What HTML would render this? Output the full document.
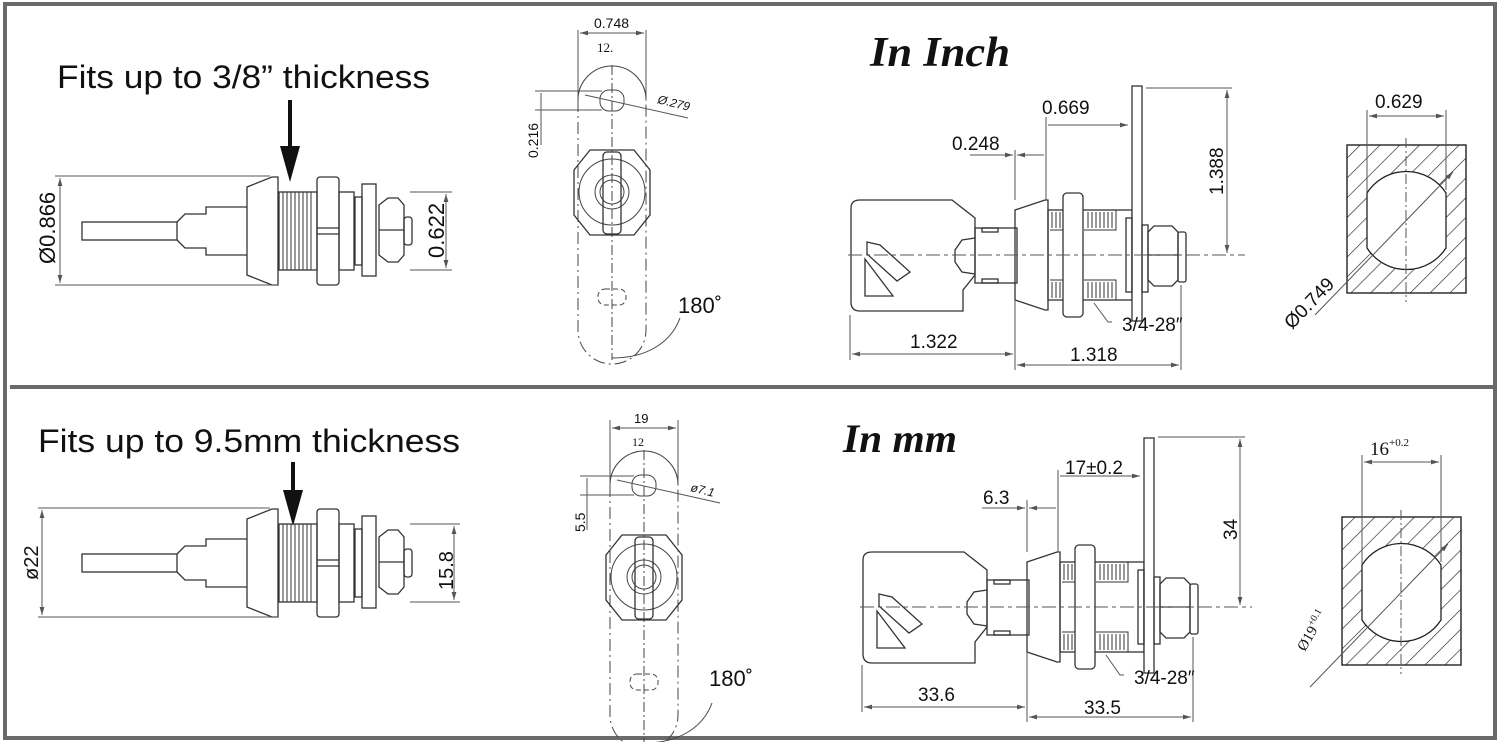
<!DOCTYPE html>
<html><head><meta charset="utf-8"><style>
html,body{margin:0;padding:0;background:#fff}
svg{display:block}
text{font-family:"Liberation Sans",sans-serif;fill:#111}
</style></head><body>
<svg width="1500" height="742" viewBox="0 0 1500 742" xmlns="http://www.w3.org/2000/svg">
<defs>
<marker id="a" viewBox="0 0 10 6" refX="10" refY="3" markerWidth="8" markerHeight="5" orient="auto-start-reverse"><path d="M0,0L10,3L0,6z" fill="#555"/></marker>
<pattern id="h" width="14" height="14" patternUnits="userSpaceOnUse" patternTransform="rotate(45)"><line x1="0" y1="0" x2="0" y2="14" stroke="#222" stroke-width="1.3"/></pattern>
<g id="side" fill="none" stroke="#333" stroke-width="1.3">
  <rect x="82" y="222" width="95" height="18"/>
  <path d="M177,222 L185,214 L206,214 L206,207 L247,207 M177,240 L185,248 L206,248 L206,255 L247,255"/>
  <path d="M247,187 L272,177 L278,177 L278,285 L272,285 L247,275 Z"/>
  <rect x="279" y="192" width="38" height="78"/>
  <path d="M283,192v78M287,192v78M291,192v78M295,192v78M299,192v78M303,192v78M307,192v78M311,192v78" stroke-width="1"/>
  <rect x="317" y="177" width="22" height="108" rx="3"/>
  <line x1="317" y1="228" x2="339" y2="228"/><line x1="317" y1="234" x2="339" y2="234"/>
  <rect x="339" y="192" width="15" height="78"/>
  <rect x="355" y="197" width="7" height="68"/>
  <rect x="362" y="184" width="14" height="92"/>
  <path d="M379,205 L388,198 L398,198 L404,205 L404,255 L398,262 L388,262 L379,255 Z"/>
  <line x1="379" y1="230" x2="404" y2="230"/>
  <rect x="404" y="217" width="8" height="28" rx="3"/>
</g>
<g id="cam" fill="none" stroke="#444" stroke-width="1">
  <path d="M578,100 A27,27 0 0 1 646,100" stroke-width="1.1"/>
  <path d="M578,100 V330 A27,27 0 0 0 646,330 V100" stroke-dasharray="12,4,2,4"/>
  <rect x="600" y="90" width="24" height="21" rx="9"/>
  <rect x="598" y="289" width="28" height="16" rx="7" stroke-dasharray="5,3"/>
  <line x1="612" y1="65" x2="612" y2="360" stroke-dasharray="10,3,2,3"/>
  <path d="M574,170 L590,150 L634,150 L650,170 L650,215 L634,235 L590,235 L574,215 Z" stroke="#333" stroke-width="1.3"/>
  <circle cx="612" cy="192" r="33"/>
  <circle cx="612" cy="192" r="17"/><circle cx="612" cy="192" r="12"/>
  <rect x="603" y="152" width="18" height="82" rx="4" stroke="#333" stroke-width="1.3"/>
  <path d="M612,358 C650,358 672,340 680,318"/>
</g>
<g id="keylock" fill="none" stroke="#333" stroke-width="1.3">
  <path d="M860,200 L952,200 L975,218 L975,250 L975,275 L963,290 L963,311 L860,311 Q851,311 851,302 L851,208 Q851,200 860,200Z"/>
  <path d="M867,242 L880,245 L910,272 L897,281 L867,254 Z"/><path d="M865,259 L865,296 L893,296 Z"/>
  <rect x="975" y="228" width="42" height="55"/>
  <rect x="982" y="228" width="16" height="4"/><rect x="982" y="279" width="16" height="4"/>
  <path d="M975,238 L962,240 L955,250 L955,262 L962,272 L975,274"/>
  <path d="M1015,210 L1045,200 L1048,200 L1048,310 L1045,310 L1015,300 Z"/>
  <rect x="1048" y="210" width="84" height="90"/>
  <path d="M1050,210 h18 v20 h-18 M1084,210 h32 v20 h-32 M1050,280 h18 v20 h-18 M1084,280 h32 v20 h-32" stroke-width="1"/>
  <path d="M1052,212v16M1056,212v16M1060,212v16M1064,212v16M1088,212v16M1092,212v16M1096,212v16M1100,212v16M1104,212v16M1108,212v16M1112,212v16M1052,282v16M1056,282v16M1060,282v16M1064,282v16M1088,282v16M1092,282v16M1096,282v16M1100,282v16M1104,282v16M1108,282v16M1112,282v16" stroke-width="1"/>
  <rect x="1063" y="193" width="20" height="124" rx="4" fill="#fff"/>
  <rect x="1132" y="86" width="10" height="235" fill="#fff"/>
  <rect x="1126" y="218" width="6" height="74"/>
  <rect x="1142" y="225" width="6" height="67"/>
  <path d="M1148,232 L1154,226 L1172,226 L1178,232 L1178,280 L1172,286 L1154,286 L1148,280 Z"/>
  <line x1="1148" y1="255" x2="1178" y2="255"/>
  <rect x="1178" y="232" width="8" height="50" rx="2"/>
</g>
<g id="sq">
  <rect x="1347" y="145" width="119" height="148" fill="url(#h)" stroke="#222" stroke-width="1.4"/>
  <path d="M1367,193 A47,47 0 0 1 1446,193 L1446,248 A47,47 0 0 1 1367,248 Z" fill="#fff" stroke="#222" stroke-width="1.3"/>
  <line x1="1406" y1="138" x2="1406" y2="302" stroke="#555" stroke-dasharray="10,3,2,3"/>
</g>
</defs>

<rect x="5" y="4" width="1490" height="734" fill="none" stroke="#6a6a6a" stroke-width="4"/>
<line x1="10" y1="387" x2="1495" y2="387" stroke="#6a6a6a" stroke-width="4"/>

<!-- TOP -->
<text x="57" y="88" font-size="32" textLength="373" lengthAdjust="spacingAndGlyphs">Fits up to 3/8” thickness</text>
<line x1="290" y1="100" x2="290" y2="150" stroke="#111" stroke-width="4"/>
<path d="M280,146 L300,146 L290,182 Z" fill="#111"/>
<use href="#side"/>
<g stroke="#555" stroke-width="1" fill="none">
 <line x1="55" y1="176" x2="270" y2="176"/><line x1="55" y1="285" x2="278" y2="285"/>
 <line x1="60" y1="178" x2="60" y2="283" marker-start="url(#a)" marker-end="url(#a)"/>
 <line x1="410" y1="192" x2="452" y2="192"/><line x1="410" y1="270" x2="452" y2="270"/>
 <line x1="446" y1="194" x2="446" y2="268" marker-start="url(#a)" marker-end="url(#a)"/>
</g>
<text transform="translate(55,264) rotate(-90)" font-size="22">Ø0.866</text>
<text transform="translate(444,258) rotate(-90)" font-size="22">0.622</text>

<use href="#cam"/>
<g stroke="#555" stroke-width="1" fill="none">
 <line x1="578" y1="30" x2="578" y2="100"/><line x1="646" y1="30" x2="646" y2="100"/>
 <line x1="580" y1="33" x2="644" y2="33" marker-start="url(#a)" marker-end="url(#a)"/>
 <line x1="535" y1="91" x2="602" y2="91"/><line x1="535" y1="110" x2="602" y2="110"/>
 <line x1="541" y1="93" x2="541" y2="145"/>
 <line x1="585" y1="95" x2="688" y2="118"/>
</g>
<text x="594" y="28" font-size="14">0.748</text>
<text x="597" y="52" font-size="13" style="font-family:'Liberation Serif',serif">12.</text>
<text transform="translate(657,103) rotate(14)" font-size="12" font-style="italic">Ø.279</text>
<text transform="translate(538,158) rotate(-90)" font-size="14">0.216</text>
<text x="678" y="313" font-size="22">180˚</text>

<text x="870" y="66" font-size="42" font-weight="bold" font-style="italic" textLength="140" lengthAdjust="spacingAndGlyphs" style="font-family:'Liberation Serif',serif">In Inch</text>

<use href="#keylock"/>
<g stroke="#555" stroke-width="1" fill="none">
 <line x1="848" y1="255" x2="1245" y2="255" stroke-dasharray="14,4,4,4"/>
 <line x1="1146" y1="88" x2="1232" y2="88"/><line x1="1227" y1="90" x2="1227" y2="253" marker-start="url(#a)" marker-end="url(#a)"/>
 <line x1="1046" y1="117" x2="1046" y2="200"/><line x1="1048" y1="125" x2="1128" y2="125" marker-end="url(#a)"/>
 <line x1="1015" y1="150" x2="1015" y2="200"/><line x1="970" y1="155" x2="1013" y2="155" marker-end="url(#a)"/><line x1="1017" y1="155" x2="1044" y2="155" marker-start="url(#a)"/>
 <line x1="850" y1="315" x2="850" y2="360"/><line x1="1015" y1="300" x2="1015" y2="370"/><line x1="1181" y1="285" x2="1181" y2="370"/>
 <line x1="852" y1="354" x2="1013" y2="354" marker-start="url(#a)" marker-end="url(#a)"/>
 <line x1="1017" y1="365" x2="1179" y2="365" marker-start="url(#a)" marker-end="url(#a)"/>
 <path d="M1094,303 L1108,322 L1112,322"/>
</g>
<text x="1042" y="114" font-size="19">0.669</text>
<text x="952" y="150" font-size="19">0.248</text>
<text transform="translate(1223,195) rotate(-90)" font-size="19">1.388</text>
<text x="1122" y="331" font-size="19">3/4-28″</text>
<text x="910" y="348" font-size="19">1.322</text>
<text x="1070" y="361" font-size="19">1.318</text>

<use href="#sq"/>
<g stroke="#555" stroke-width="1" fill="none">
 <line x1="1367" y1="110" x2="1367" y2="192"/><line x1="1446" y1="110" x2="1446" y2="190"/>
 <line x1="1369" y1="116" x2="1444" y2="116" marker-start="url(#a)" marker-end="url(#a)"/>
 <line x1="1315" y1="315" x2="1453" y2="172" marker-end="url(#a)"/>
</g>
<text x="1375" y="108" font-size="19">0.629</text>
<text transform="translate(1292,330) rotate(-46)" font-size="19">Ø0.749</text>

<!-- BOTTOM -->
<text x="38" y="452" font-size="32" textLength="422" lengthAdjust="spacingAndGlyphs">Fits up to 9.5mm thickness</text>
<line x1="293" y1="462" x2="293" y2="495" stroke="#111" stroke-width="4"/>
<path d="M283,490 L303,490 L293,526 Z" fill="#111"/>
<use href="#side" transform="translate(0,332)"/>
<g stroke="#555" stroke-width="1" fill="none">
 <line x1="38" y1="508" x2="270" y2="508"/><line x1="38" y1="617" x2="278" y2="617"/>
 <line x1="42" y1="510" x2="42" y2="615" marker-start="url(#a)" marker-end="url(#a)"/>
 <line x1="410" y1="524" x2="460" y2="524"/><line x1="410" y1="602" x2="460" y2="602"/>
 <line x1="454" y1="526" x2="454" y2="600" marker-start="url(#a)" marker-end="url(#a)"/>
</g>
<text transform="translate(38,580) rotate(-90)" font-size="20">ø22</text>
<text transform="translate(453,590) rotate(-90)" font-size="20">15.8</text>

<use href="#cam" transform="translate(32,385)"/>
<g stroke="#555" stroke-width="1" fill="none">
 <line x1="610" y1="420" x2="610" y2="485"/><line x1="678" y1="420" x2="678" y2="485"/>
 <line x1="612" y1="428" x2="676" y2="428" marker-start="url(#a)" marker-end="url(#a)"/>
 <line x1="580" y1="476" x2="634" y2="476"/><line x1="580" y1="495" x2="634" y2="495"/>
 <line x1="587" y1="478" x2="587" y2="530"/>
 <line x1="617" y1="480" x2="720" y2="503"/>
</g>
<text x="634" y="423" font-size="13">19</text>
<text x="632" y="446" font-size="12" style="font-family:'Liberation Serif',serif">12</text>
<text transform="translate(690,491) rotate(14)" font-size="12" font-style="italic">ø7.1</text>
<text transform="translate(585,532) rotate(-90)" font-size="14">5.5</text>
<text x="709" y="686" font-size="22">180˚</text>

<text x="843" y="452" font-size="40" font-weight="bold" font-style="italic" textLength="114" lengthAdjust="spacingAndGlyphs" style="font-family:'Liberation Serif',serif">In mm</text>

<use href="#keylock" transform="translate(12,352)"/>
<g stroke="#555" stroke-width="1" fill="none">
 <line x1="860" y1="607" x2="1252" y2="607" stroke-dasharray="14,4,4,4"/>
 <line x1="1158" y1="437" x2="1245" y2="437"/><line x1="1240" y1="439" x2="1240" y2="605" marker-start="url(#a)" marker-end="url(#a)"/>
 <line x1="1058" y1="470" x2="1058" y2="552"/><line x1="1060" y1="476" x2="1140" y2="476" marker-end="url(#a)"/>
 <line x1="1027" y1="500" x2="1027" y2="552"/><line x1="982" y1="508" x2="1025" y2="508" marker-end="url(#a)"/><line x1="1029" y1="508" x2="1056" y2="508" marker-start="url(#a)"/>
 <line x1="862" y1="665" x2="862" y2="712"/><line x1="1027" y1="652" x2="1027" y2="722"/><line x1="1193" y1="637" x2="1193" y2="722"/>
 <line x1="864" y1="707" x2="1025" y2="707" marker-start="url(#a)" marker-end="url(#a)"/>
 <line x1="1029" y1="717" x2="1191" y2="717" marker-start="url(#a)" marker-end="url(#a)"/>
 <path d="M1106,655 L1120,675 L1124,675"/>
</g>
<text x="1065" y="474" font-size="19">17±0.2</text>
<text x="983" y="504" font-size="19">6.3</text>
<text transform="translate(1237,540) rotate(-90)" font-size="19">34</text>
<text x="1134" y="684" font-size="19">3/4-28″</text>
<text x="918" y="701" font-size="19">33.6</text>
<text x="1084" y="714" font-size="19">33.5</text>

<use href="#sq" transform="translate(-5,372)"/>
<g stroke="#555" stroke-width="1" fill="none">
 <line x1="1362" y1="455" x2="1362" y2="565"/><line x1="1441" y1="455" x2="1441" y2="562"/>
 <line x1="1364" y1="462" x2="1439" y2="462" marker-start="url(#a)" marker-end="url(#a)"/>
 <line x1="1310" y1="687" x2="1448" y2="544" marker-end="url(#a)"/>
</g>
<text x="1370" y="455" font-size="19" style="font-family:'Liberation Serif',serif">16<tspan font-size="11" dy="-9">+0.2</tspan></text>
<text transform="translate(1305,652) rotate(-60)" font-size="15" style="font-family:'Liberation Serif',serif">Ø19<tspan font-size="10" dy="-6">+0.1</tspan></text>
</svg>
</body></html>
